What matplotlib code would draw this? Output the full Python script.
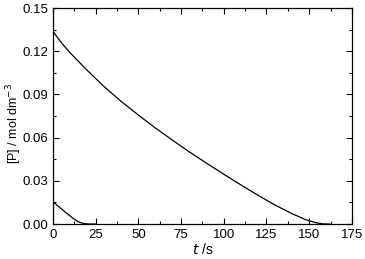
import matplotlib
matplotlib.use("Agg")
import matplotlib.pyplot as plt
from matplotlib.ticker import MultipleLocator

plt.rcParams['font.family'] = ['Liberation Sans', 'DejaVu Sans']

# upper curve
t_hi = [0, 5, 10, 20, 30, 40, 50, 60, 70, 80, 90, 100, 110, 120, 130,
        140, 148, 154, 158, 162]
p_hi = [0.1338, 0.1258, 0.1190, 0.1068, 0.0954, 0.0851, 0.0757, 0.0667,
        0.0582, 0.0500, 0.0422, 0.0346, 0.0272, 0.0200, 0.0132, 0.0072,
        0.0030, 0.0009, 0.0001, 0.0]

# lower curve
t_lo = [0, 4, 8, 12, 15, 18, 21, 25]
p_lo = [0.0155, 0.0115, 0.0075, 0.0038, 0.0015, 0.0003, 0.0, 0.0]

fig = plt.figure(figsize=(3.65, 2.59), dpi=100)
ax = fig.add_axes([0.145, 0.135, 0.819, 0.834])

ax.plot(t_hi, p_hi, color='black', lw=0.9)
ax.plot(t_lo, p_lo, color='black', lw=0.9)

ax.set_xlim(0, 175)
ax.set_ylim(0, 0.15)
ax.xaxis.set_major_locator(MultipleLocator(25))
ax.xaxis.set_minor_locator(MultipleLocator(12.5))
ax.yaxis.set_major_locator(MultipleLocator(0.03))
ax.yaxis.set_minor_locator(MultipleLocator(0.015))
ax.yaxis.set_major_formatter(plt.FormatStrFormatter('%.2f'))
ax.tick_params(which='both', direction='in', top=True, right=True, labelsize=9.5)
ax.tick_params(which='major', length=4, width=0.8)
ax.tick_params(which='minor', length=2, width=0.8)
for s in ax.spines.values():
    s.set_linewidth(0.9)

ax.set_xlabel(r'$t$ /s', fontsize=10, labelpad=1)
fig.text(14 / 365, 1 - 123 / 259, r'[P] / mol dm$^{-3}$', fontsize=9,
         rotation=90, ha='center', va='center')

fig.savefig('out.png', dpi=100)
